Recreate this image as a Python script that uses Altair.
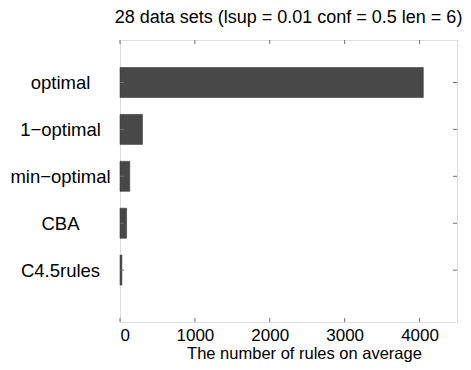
import altair as alt
import pandas as pd

categories = ["optimal", "1\u2212optimal", "min\u2212optimal", "CBA\u00a0\u00a0\u00a0", "C4.5rules"]
positions = [1, 2, 3, 4, 5]
values = [4050, 300, 130, 88, 25]
x_ticks = [0, 1000, 2000, 3000, 4000]

df = pd.DataFrame({"cat": categories, "pos": positions, "value": values})
ticks_df = pd.DataFrame({"t": x_ticks})

FONT = "Liberation Sans"
W, H = 337, 282
FRAME = "#6e6e6e"

label_expr = "{" + ",".join(f"'{p}':'{c}'" for p, c in zip(positions, categories)) + "}[datum.value]"

xscale = alt.Scale(domain=[0, 4500], nice=False, zero=True)
yscale = alt.Scale(domain=[0.2, 6], reverse=True, nice=False, zero=False)

bars = alt.Chart(df).mark_bar(orient="horizontal", size=30, color="#484848", stroke="#3a3a3a",
                              strokeWidth=0.6).encode(
    x=alt.X("value:Q", scale=xscale,
            axis=alt.Axis(values=x_ticks, format="d", title="The number of rules on average", ticks=False,
                          domain=False, grid=False, labelFontSize=17, labelFont=FONT, labelColor="black",
                          labelPadding=5, titleFontSize=16.5, titleFont=FONT, titleFontWeight="normal",
                          titleColor="black", titlePadding=2, titleX=184, titleAlign="center")),
    y=alt.Y("pos:Q", scale=yscale,
            axis=alt.Axis(values=positions, labelExpr=label_expr, title=None, ticks=False, domain=False,
                          grid=False, labelFontSize=18.5, labelFont=FONT, labelColor="black",
                          labelAlign="center", labelPadding=60)),
)

top_ticks = alt.Chart(ticks_df).mark_rule(color=FRAME, strokeWidth=1).encode(
    x=alt.X("t:Q", scale=xscale), y=alt.value(0), y2=alt.value(4))
bot_ticks = alt.Chart(ticks_df).mark_rule(color=FRAME, strokeWidth=1).encode(
    x=alt.X("t:Q", scale=xscale), y=alt.value(H), y2=alt.value(H - 4))
left_ticks = alt.Chart(df).mark_rule(color=FRAME, strokeWidth=1).encode(
    y=alt.Y("pos:Q", scale=yscale), x=alt.value(0), x2=alt.value(4))
right_ticks = alt.Chart(df).mark_rule(color=FRAME, strokeWidth=1).encode(
    y=alt.Y("pos:Q", scale=yscale), x=alt.value(W), x2=alt.value(W - 4))

chart = alt.layer(bars, top_ticks, bot_ticks, left_ticks, right_ticks).properties(
    width=W, height=H,
    title=alt.TitleParams("28 data sets (lsup = 0.01 conf = 0.5 len = 6)", fontSize=18, font=FONT,
                          fontWeight="normal", color="black", offset=13, anchor="middle"),
    autosize=alt.AutoSizeParams(type="none"),
    padding={"left": 112, "top": 32, "right": 6, "bottom": 40},
).configure_view(stroke=FRAME, strokeWidth=1.2).configure(background="white")

chart.save("out.html", embed_options={"renderer": "svg", "actions": False})
